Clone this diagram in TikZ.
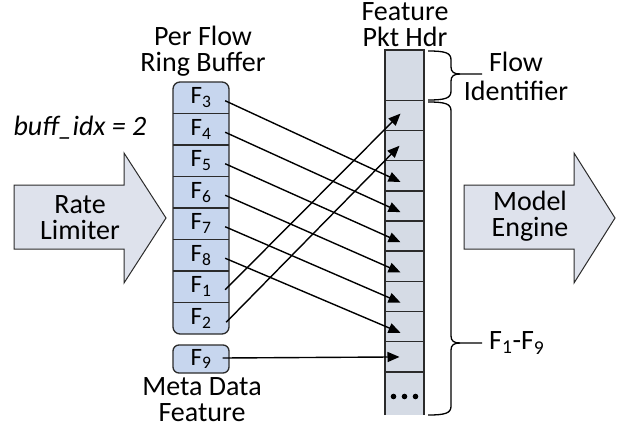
\documentclass[tikz,border=0pt]{standalone}
\usepackage{fontspec}
\setmainfont{Carlito}
\usetikzlibrary{arrows.meta,calc}
\definecolor{bigfill}{HTML}{DEE2EC}
\definecolor{ringfill}{HTML}{C7D6EE}
\definecolor{colfill}{HTML}{D5DBE5}
\definecolor{edge}{HTML}{2B2B2B}
\begin{document}
\begin{tikzpicture}[x=1pt,y=-1pt,
  every node/.style={inner sep=0pt, font=\fontsize{28}{26}\selectfont},
  lbl/.style={align=center},
  bigarrow/.style={draw=edge, line width=1pt, fill=bigfill, line join=miter},
  rcell/.style={minimum width=56pt, minimum height=31.5pt, font=\fontsize{25}{26}\selectfont},
  fcell/.style={minimum width=39pt, minimum height=30.17pt},
  divline/.style={draw=edge, line width=1.5pt},
  link/.style={draw=black, line width=1.4pt, -{Triangle[length=12pt,width=10pt]}},
  bracepath/.style={draw=black, line width=1.3pt}]
\useasboundingbox (0,0) rectangle (623,431);

% big arrows
\draw[bigarrow] (14,185) -- (124,185) -- (124,153) -- (166,218) -- (124,283) -- (124,249) -- (14,249) -- cycle;
\node[lbl] (rate) at (80,218) {Rate\\Limiter};
\draw[bigarrow] (464,185) -- (574,185) -- (574,153) -- (615,218) -- (574,283) -- (574,249) -- (464,249) -- cycle;
\node[lbl] (model) at (530,216) {Model\\Engine};

\node (buff) at (80,128) {\itshape buff\_idx = 2};

% ring buffer
\node[lbl] (ringlbl) at (203,51) {Per Flow\\Ring Buffer};
\draw[fill=ringfill, draw=edge, line width=1.3pt, rounded corners=7pt] (173,82) rectangle (229,334);
\foreach \k/\t [count=\i] in {3/3,4/4,5/5,6/6,7/7,8/8,1/1,2/2}{
  \node[rcell] (r\k) at (201,{82+31.5*(\i-0.5)}) {F\textsubscript{\t}};
}
\foreach \k in {3,4,5,6,7,8,1}{
  \draw[divline] (r\k.south west) -- (r\k.south east);
}
\node[rcell, draw=edge, fill=ringfill, line width=1.3pt, rounded corners=6pt, minimum height=28pt] (r9) at (201,359) {F\textsubscript{9}};
\node[lbl] (metalbl) at (202,400) {Meta Data\\Feature};

% feature header column
\node[lbl] (hdrlbl) at (405,25) {Feature\\Pkt Hdr};
\fill[colfill] (385,50) rectangle (424,415);
\draw[draw=edge, line width=1.2pt] (385,415) -- (385,50) -- (424,50) -- (424,415);
\node[fcell, minimum height=50.5pt] (h) at (404.5,75.25) {};
\foreach \k in {1,...,9}{
  \node[fcell] (c\k) at (404.5,{100.5+30.17*(\k-0.5)}) {};
  \draw[divline] (c\k.north west) -- (c\k.north east);
}
\draw[divline] (c9.south west) -- (c9.south east);
\node[fcell, minimum height=43pt] (dots) at (404.5,393.5) {};
\foreach \dx in {-11,0,11}{
  \fill ([xshift=\dx pt, yshift=-3pt]dots.center) circle (2.8pt);
}

% connectors
\draw[link] ([xshift=-4pt,yshift=-3pt]r1.east) -- ([xshift=-4pt,yshift=2pt]c1.center);
\draw[link] ([xshift=-3pt,yshift=-4pt]r2.east) -- ([xshift=-5pt,yshift=0pt]c2.center);
\foreach \k in {3,...,8}{
  \draw[link] ([xshift=-4pt,yshift=-3pt]r\k.east) -- ([xshift=-4pt,yshift=-6pt]c\k.center);
}
\draw[link] ([xshift=-7pt,yshift=1pt]r9.east) -- ([xshift=-5pt]c9.center);

% braces
\coordinate (b1t) at (428,51);
\coordinate (b1m) at (482,74);
\coordinate (b1b) at (428,100);
\draw[bracepath] (b1t) .. controls (446,51) and (451,53) .. (451,60) -- (451,67)
  .. controls (451,72) and (454,74) .. (460,74) -- (b1m);
\draw[bracepath] (460,74) .. controls (454,74) and (451,76) .. (451,81) -- (451,91)
  .. controls (451,98) and (446,100) .. (b1b);
\node[lbl, font=\fontsize{28}{29}\selectfont] (flowlbl) at (516,76) {Flow\\Identifier};

\coordinate (b2t) at (428,102);
\coordinate (b2m) at (482,343);
\coordinate (b2b) at (428,415);
\draw[bracepath] (b2t) .. controls (446,102) and (451,104) .. (451,111) -- (451,336)
  .. controls (451,341) and (454,343) .. (460,343) -- (b2m);
\draw[bracepath] (460,343) .. controls (454,343) and (451,345) .. (451,350) -- (451,406)
  .. controls (451,413) and (446,415) .. (b2b);
\node[anchor=west] (rangelbl) at (489,343) {F\textsubscript{1}-F\textsubscript{9}};
\end{tikzpicture}
\end{document}
